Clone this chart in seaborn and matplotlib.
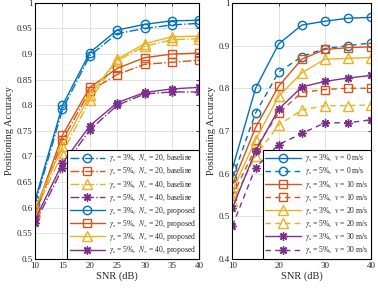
import numpy as np
import pandas as pd
import matplotlib
matplotlib.use("Agg")
import matplotlib.pyplot as plt
import seaborn as sns
from matplotlib.ticker import FuncFormatter

# --- DATA ---
snr = [10, 15, 20, 25, 30, 35, 40]

# left panel: gamma_s / N_v, baseline vs proposed
left_labels = [
    r"$\gamma_\mathrm{s}$ = 3%,  $N_\mathrm{v}$ = 20, baseline",
    r"$\gamma_\mathrm{s}$ = 5%,  $N_\mathrm{v}$ = 20, baseline",
    r"$\gamma_\mathrm{s}$ = 3%,  $N_\mathrm{v}$ = 40, baseline",
    r"$\gamma_\mathrm{s}$ = 5%,  $N_\mathrm{v}$ = 40, baseline",
    r"$\gamma_\mathrm{s}$ = 3%,  $N_\mathrm{v}$ = 20, proposed",
    r"$\gamma_\mathrm{s}$ = 5%,  $N_\mathrm{v}$ = 20, proposed",
    r"$\gamma_\mathrm{s}$ = 3%,  $N_\mathrm{v}$ = 40, proposed",
    r"$\gamma_\mathrm{s}$ = 5%,  $N_\mathrm{v}$ = 40, proposed",
]
blue_base = [0.608, 0.792, 0.897, 0.940, 0.950, 0.957, 0.960]
red_base = [0.585, 0.732, 0.828, 0.860, 0.880, 0.884, 0.888]
yellow_base = [0.592, 0.707, 0.810, 0.887, 0.915, 0.928, 0.930]
purple_base = [0.570, 0.677, 0.752, 0.800, 0.822, 0.826, 0.826]
blue_prop = [0.615, 0.800, 0.903, 0.947, 0.958, 0.965, 0.966]
red_prop = [0.592, 0.742, 0.835, 0.872, 0.893, 0.900, 0.902]
yellow_prop = [0.600, 0.720, 0.820, 0.890, 0.920, 0.934, 0.935]
purple_prop = [0.577, 0.687, 0.760, 0.805, 0.825, 0.832, 0.835]
left_series = [blue_base, red_base, yellow_base, purple_base,
               blue_prop, red_prop, yellow_prop, purple_prop]

# right panel: gamma_s / speed v
right_labels = [
    r"$\gamma_\mathrm{s}$ = 3%,  $v$ = 0 m/s",
    r"$\gamma_\mathrm{s}$ = 5%,  $v$ = 0 m/s",
    r"$\gamma_\mathrm{s}$ = 3%,  $v$ = 10 m/s",
    r"$\gamma_\mathrm{s}$ = 5%,  $v$ = 10 m/s",
    r"$\gamma_\mathrm{s}$ = 3%,  $v$ = 20 m/s",
    r"$\gamma_\mathrm{s}$ = 5%,  $v$ = 20 m/s",
    r"$\gamma_\mathrm{s}$ = 3%,  $v$ = 30 m/s",
    r"$\gamma_\mathrm{s}$ = 5%,  $v$ = 30 m/s",
]
v0_3 = [0.612, 0.800, 0.904, 0.948, 0.957, 0.964, 0.966]
v0_5 = [0.590, 0.742, 0.838, 0.874, 0.893, 0.900, 0.906]
v10_3 = [0.575, 0.708, 0.805, 0.868, 0.891, 0.895, 0.897]
v10_5 = [0.548, 0.660, 0.742, 0.790, 0.797, 0.800, 0.800]
v20_3 = [0.560, 0.679, 0.781, 0.836, 0.868, 0.870, 0.872]
v20_5 = [0.535, 0.641, 0.714, 0.749, 0.759, 0.759, 0.761]
v30_3 = [0.520, 0.653, 0.751, 0.803, 0.816, 0.824, 0.830]
v30_5 = [0.478, 0.614, 0.668, 0.694, 0.719, 0.719, 0.726]
right_series = [v0_3, v0_5, v10_3, v10_5, v20_3, v20_5, v30_3, v30_5]

# --- STYLE ---
sns.set_style("white")
plt.rcParams["font.family"] = ["Liberation Serif", "DejaVu Serif"]
plt.rcParams["mathtext.fontset"] = "stix"

colors = ["#0072BD", "#D95319", "#EDB120", "#7E2F8E"]
markers = ["o", "s", "^", (8, 2, 0)]
msizes = [6, 5.5, 6.5, 6]


def style_axes(ax):
    ax.grid(True, color="#dddddd", linewidth=0.6)
    for s in ax.spines.values():
        s.set_color("black")
        s.set_linewidth(0.8)
    ax.tick_params(direction="in", length=2.5, width=0.6, labelsize=6.5,
                   top=True, right=True, pad=2)
    ax.yaxis.set_major_formatter(FuncFormatter(lambda v, p: f"{v:g}"))
    ax.set_xlabel("SNR (dB)", fontsize=7.5, labelpad=1)
    ax.set_ylabel("Positioning Accuracy", fontsize=7.5, labelpad=2)


def draw(ax, x, y, color, marker, ms, ls, label):
    mfc = color if isinstance(marker, tuple) else "none"
    sns.lineplot(x=x, y=y, ax=ax, color=color, linestyle=ls, marker=marker,
                 markersize=ms, markerfacecolor=mfc, markeredgecolor=color,
                 markeredgewidth=1.0, linewidth=1.0, label=label)


fig = plt.figure(figsize=(3.78, 2.88), dpi=100)
ax1 = fig.add_axes([0.093, 0.101, 0.434, 0.889])
ax2 = fig.add_axes([0.615, 0.101, 0.367, 0.889])

for i, (vals, lab) in enumerate(zip(left_series, left_labels)):
    k = i % 4
    ls = "-." if i < 4 else "-"
    draw(ax1, snr, vals, colors[k], markers[k], msizes[k], ls, lab)

for i, (vals, lab) in enumerate(zip(right_series, right_labels)):
    k = i // 2
    ls = "-" if i % 2 == 0 else (0, (4, 3))
    draw(ax2, snr, vals, colors[k], markers[k], msizes[k], ls, lab)

ax1.set_xlim(10, 40)
ax1.set_ylim(0.5, 1)
ax1.set_xticks(np.arange(10, 41, 5))
ax1.set_yticks(np.arange(0.5, 1.001, 0.05))
ax2.set_xlim(10, 40)
ax2.set_ylim(0.4, 1)
ax2.set_xticks([10, 20, 30, 40])
ax2.set_yticks(np.arange(0.4, 1.001, 0.1))

for ax in (ax1, ax2):
    style_axes(ax)
    leg = ax.legend(loc="lower right", bbox_to_anchor=(1, 0), borderaxespad=0,
                    fontsize=5.5, handlelength=4.6, labelspacing=0.15,
                    handletextpad=0.6, borderpad=0.35, fancybox=False,
                    framealpha=1, edgecolor="black")
    leg.get_frame().set_linewidth(0.8)

fig.savefig("out.png", dpi=100)
